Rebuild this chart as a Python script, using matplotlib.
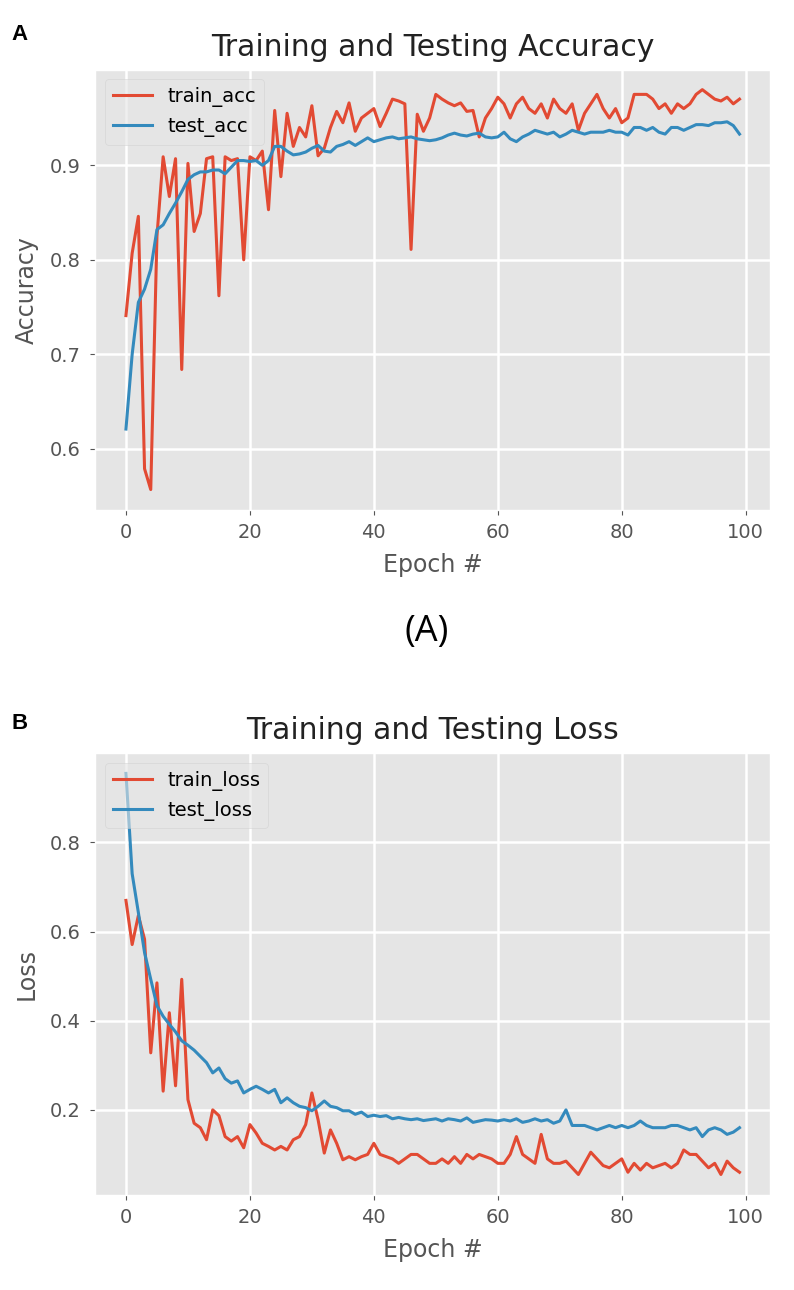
import numpy as np
import matplotlib
matplotlib.use("Agg")
import matplotlib.pyplot as plt

plt.style.use("ggplot")

# 训练过程数据（从图中读取，100 个 epoch）
epochs = np.arange(100)

train_acc = [
    0.741, 0.807, 0.846, 0.579, 0.557, 0.825, 0.909, 0.867, 0.907, 0.684,
    0.902, 0.830, 0.849, 0.907, 0.909, 0.762, 0.909, 0.905, 0.907, 0.800,
    0.909, 0.905, 0.915, 0.853, 0.958, 0.888, 0.955, 0.920, 0.940, 0.930,
    0.963, 0.910, 0.918, 0.940, 0.957, 0.945, 0.966, 0.936, 0.950, 0.955,
    0.960, 0.941, 0.955, 0.970, 0.968, 0.965, 0.811, 0.954, 0.936, 0.950,
    0.975, 0.970, 0.966, 0.963, 0.966, 0.957, 0.958, 0.930, 0.950, 0.960,
    0.972, 0.965, 0.950, 0.965, 0.972, 0.960, 0.955, 0.965, 0.950, 0.970,
    0.960, 0.955, 0.965, 0.937, 0.955, 0.965, 0.975, 0.960, 0.950, 0.960,
    0.945, 0.950, 0.975, 0.975, 0.975, 0.970, 0.960, 0.965, 0.955, 0.965,
    0.960, 0.965, 0.975, 0.980, 0.975, 0.970, 0.968, 0.972, 0.965, 0.970,
]

test_acc = [
    0.621, 0.700, 0.755, 0.769, 0.790, 0.832, 0.837, 0.849, 0.860, 0.872,
    0.885, 0.890, 0.893, 0.893, 0.895, 0.895, 0.891, 0.898, 0.905, 0.905,
    0.904, 0.905, 0.900, 0.905, 0.920, 0.920, 0.915, 0.911, 0.912, 0.914,
    0.918, 0.921, 0.915, 0.914, 0.920, 0.922, 0.925, 0.921, 0.925, 0.929,
    0.925, 0.927, 0.929, 0.930, 0.928, 0.929, 0.930, 0.928, 0.927, 0.926,
    0.927, 0.929, 0.932, 0.934, 0.932, 0.931, 0.933, 0.934, 0.930, 0.929,
    0.930, 0.935, 0.928, 0.925, 0.930, 0.933, 0.937, 0.935, 0.933, 0.935,
    0.930, 0.933, 0.937, 0.935, 0.933, 0.935, 0.935, 0.935, 0.937, 0.935,
    0.935, 0.932, 0.940, 0.940, 0.937, 0.940, 0.935, 0.933, 0.940, 0.940,
    0.937, 0.940, 0.943, 0.943, 0.942, 0.945, 0.945, 0.946, 0.942, 0.933,
]

train_loss = [
    0.670, 0.571, 0.636, 0.583, 0.328, 0.485, 0.242, 0.418, 0.254, 0.493,
    0.223, 0.170, 0.160, 0.133, 0.200, 0.187, 0.140, 0.130, 0.140, 0.115,
    0.167, 0.148, 0.125, 0.118, 0.110, 0.118, 0.110, 0.133, 0.140, 0.167,
    0.238, 0.178, 0.103, 0.155, 0.125, 0.088, 0.095, 0.088, 0.095, 0.100,
    0.125, 0.100, 0.095, 0.090, 0.080, 0.090, 0.100, 0.100, 0.090, 0.080,
    0.080, 0.090, 0.080, 0.095, 0.080, 0.100, 0.090, 0.100, 0.095, 0.090,
    0.080, 0.080, 0.100, 0.140, 0.100, 0.090, 0.080, 0.145, 0.090, 0.080,
    0.080, 0.085, 0.070, 0.055, 0.080, 0.105, 0.090, 0.075, 0.070, 0.080,
    0.090, 0.060, 0.080, 0.065, 0.080, 0.070, 0.075, 0.080, 0.070, 0.080,
    0.110, 0.100, 0.100, 0.085, 0.070, 0.080, 0.055, 0.085, 0.070, 0.060,
]

test_loss = [
    0.955, 0.730, 0.643, 0.553, 0.493, 0.434, 0.410, 0.392, 0.375, 0.355,
    0.345, 0.334, 0.320, 0.306, 0.283, 0.294, 0.270, 0.260, 0.265, 0.238,
    0.246, 0.253, 0.246, 0.238, 0.246, 0.216, 0.227, 0.216, 0.208, 0.205,
    0.198, 0.208, 0.220, 0.208, 0.205, 0.198, 0.198, 0.190, 0.195, 0.185,
    0.188, 0.185, 0.187, 0.180, 0.183, 0.180, 0.178, 0.180, 0.176, 0.178,
    0.180, 0.175, 0.180, 0.178, 0.175, 0.182, 0.172, 0.175, 0.178, 0.177,
    0.175, 0.178, 0.175, 0.180, 0.172, 0.175, 0.180, 0.175, 0.178, 0.170,
    0.175, 0.200, 0.165, 0.165, 0.165, 0.160, 0.155, 0.160, 0.165, 0.160,
    0.165, 0.160, 0.165, 0.175, 0.165, 0.160, 0.160, 0.160, 0.165, 0.165,
    0.160, 0.155, 0.160, 0.140, 0.155, 0.160, 0.155, 0.145, 0.150, 0.160,
]

fig = plt.figure(figsize=(7.94, 12.90), dpi=100)
fig.patch.set_facecolor("white")

ax1 = fig.add_axes([0.120, 0.605, 0.850, 0.341])
ax2 = fig.add_axes([0.120, 0.074, 0.850, 0.342])

# 上图：准确率
ax1.plot(epochs, train_acc, label="train_acc", lw=2.2)
ax1.plot(epochs, test_acc, label="test_acc", lw=2.2)
ax1.set_title("Training and Testing Accuracy", fontsize=21.5, color="#222222", pad=10)
ax1.set_xlabel("Epoch #", fontsize=17, labelpad=8)
ax1.set_ylabel("Accuracy", fontsize=17, labelpad=8)
ax1.set_yticks([0.6, 0.7, 0.8, 0.9])
ax1.legend(loc="upper left", fontsize=14, framealpha=0.6)

# 下图：损失
ax2.plot(epochs, train_loss, label="train_loss", lw=2.2)
ax2.plot(epochs, test_loss, label="test_loss", lw=2.2)
ax2.set_title("Training and Testing Loss", fontsize=21.5, color="#222222", pad=10)
ax2.set_xlabel("Epoch #", fontsize=17, labelpad=8)
ax2.set_ylabel("Loss", fontsize=17, labelpad=8)
ax2.set_yticks([0.2, 0.4, 0.6, 0.8])
ax2.legend(loc="upper left", fontsize=14, framealpha=0.6)

for ax in (ax1, ax2):
    ax.set_xticks([0, 20, 40, 60, 80, 100])
    ax.tick_params(labelsize=14)
    ax.tick_params(axis="y", pad=7)
    ax.tick_params(axis="x", pad=6)
    ax.grid(color="white", lw=1.8)

fig.text(0.015, 0.973, "A", fontsize=16, fontweight="bold",
         family="Liberation Sans", ha="left", va="center")
fig.text(0.015, 0.439, "B", fontsize=16, fontweight="bold",
         family="Liberation Sans", ha="left", va="center")
fig.text(0.538, 0.510, "(A)", fontsize=26, family="Open Sans",
         ha="center", va="center")

fig.savefig("out.png", dpi=100)
